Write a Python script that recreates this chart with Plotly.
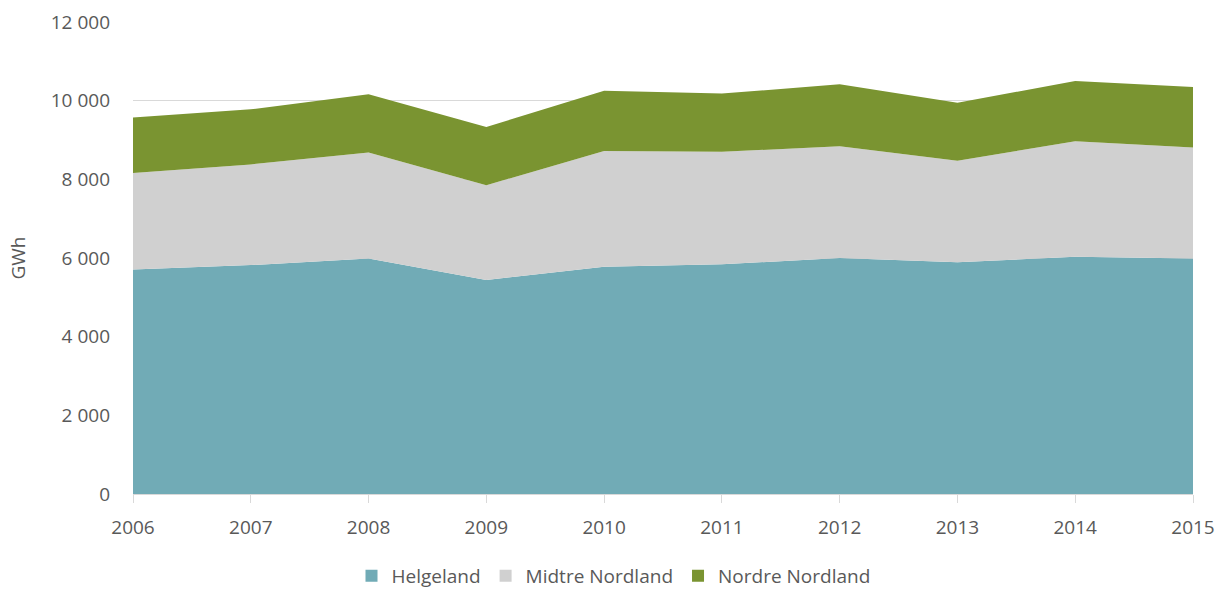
import plotly.graph_objects as go

years = [2006, 2007, 2008, 2009, 2010, 2011, 2012, 2013, 2014, 2015]
helgeland = [5710, 5820, 5990, 5440, 5780, 5840, 6000, 5890, 6030, 5990]
midtre_nordland = [2450, 2560, 2690, 2410, 2940, 2860, 2840, 2580, 2940, 2820]
nordre_nordland = [1410, 1400, 1480, 1480, 1530, 1480, 1580, 1480, 1530, 1540]

y_ticks = [0, 2000, 4000, 6000, 8000, 10000, 12000]
y_tick_labels = ["0", "2 000", "4 000", "6 000", "8 000", "10 000", "12 000"]

series = [
    ("Helgeland", helgeland, "#71ABB6"),
    ("Midtre Nordland", midtre_nordland, "#D0D0D0"),
    ("Nordre Nordland", nordre_nordland, "#7A9431"),
]

fig = go.Figure()
for name, vals, color in series:
    fig.add_trace(go.Scatter(
        x=years, y=vals, name=name, mode="lines",
        stackgroup="one", line=dict(width=0, color=color),
        fillcolor=color, showlegend=False, legendgroup=name,
    ))
# legend entries with square swatches
for name, vals, color in series:
    fig.add_trace(go.Scatter(
        x=[None], y=[None], name=name, mode="markers",
        marker=dict(symbol="square", size=12, color=color),
        showlegend=True, legendgroup=name,
    ))

font_family = "Open Sans, Lato, sans-serif"
fig.update_layout(
    width=1227, height=592,
    margin=dict(l=133, r=34, t=22, b=98),
    plot_bgcolor="white", paper_bgcolor="white",
    font=dict(family=font_family, size=18, color="#595959"),
    showlegend=True,
    legend=dict(orientation="h", xref="container", x=0.5, xanchor="center",
                yref="container", y=0.027, yanchor="middle",
                traceorder="normal", font=dict(size=19, color="#595959"),
                itemwidth=30),
    xaxis=dict(range=[2006, 2015], tickvals=years, ticktext=[str(y) for y in years],
               showgrid=False, showline=True, linecolor="#D9D9D9", linewidth=1,
               ticks="outside", ticklen=8, tickcolor="#D9D9D9", zeroline=False,
               ticklabelstandoff=8, automargin=False,
               tickfont=dict(size=19, color="#595959")),
    yaxis=dict(range=[0, 12000], tickvals=y_ticks, ticktext=y_tick_labels,
               showgrid=True, gridcolor="#D9D9D9", gridwidth=1,
               zeroline=False, showline=False, ticks="", ticklabelstandoff=22,
               automargin=False,
               title=dict(text="GWh", font=dict(size=19, color="#595959"), standoff=20),
               tickfont=dict(size=19, color="#595959")),
)

fig.write_html("out.html")
